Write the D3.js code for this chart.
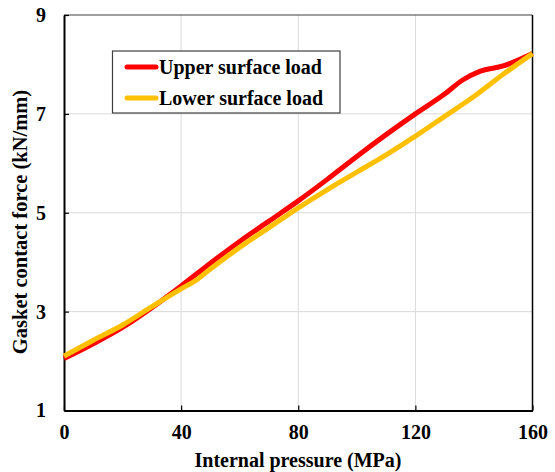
<!DOCTYPE html>
<html>
<head>
<meta charset="utf-8">
<script src="https://cdn.jsdelivr.net/npm/d3@7"></script>
<style>
  body { margin: 0; background: #fff; }
  text { font-family: "Liberation Serif", "Times New Roman", serif; font-weight: bold; }
</style>
</head>
<body>
<svg width="555" height="472"></svg>
<script>
var upperX = [0, 10, 20, 30, 40, 50, 60, 70, 80, 90, 100, 110, 120, 130, 136, 142, 150, 160];
var upperY = [2.05, 2.35, 2.68, 3.08, 3.52, 3.98, 4.42, 4.83, 5.24, 5.68, 6.14, 6.58, 7.0, 7.4, 7.68, 7.86, 7.97, 8.22];
var lowerX = [0, 10, 20, 30, 40, 45, 50, 60, 70, 80, 90, 100, 110, 120, 130, 140, 150, 160];
var lowerY = [2.1, 2.42, 2.73, 3.1, 3.46, 3.63, 3.86, 4.3, 4.7, 5.1, 5.47, 5.82, 6.17, 6.55, 6.95, 7.35, 7.8, 8.22];
var xTicks = [0, 40, 80, 120, 160];
var yTicks = [1, 3, 5, 7, 9];
var seriesNames = ["Upper surface load", "Lower surface load"];
var seriesColors = ["#ff0000", "#ffc000"];

var svg = d3.select("svg");
var pLeft = 64, pRight = 532.5, pTop = 15, pBottom = 410.5;

var x = d3.scaleLinear().domain([0, 160]).range([pLeft, pRight]);
var y = d3.scaleLinear().domain([1, 9]).range([pBottom, pTop]);

// grid
svg.append("g").selectAll("line")
  .data(xTicks.slice(1, -1))
  .enter().append("line")
  .attr("x1", function(d) { return x(d); })
  .attr("x2", function(d) { return x(d); })
  .attr("y1", pTop).attr("y2", pBottom)
  .attr("stroke", "#d9d9d9").attr("stroke-width", 1);

svg.append("g").selectAll("line")
  .data(yTicks.slice(1, -1))
  .enter().append("line")
  .attr("y1", function(d) { return y(d); })
  .attr("y2", function(d) { return y(d); })
  .attr("x1", pLeft).attr("x2", pRight)
  .attr("stroke", "#d9d9d9").attr("stroke-width", 1);

// frame
svg.append("line").attr("x1", pLeft).attr("x2", pRight).attr("y1", pTop).attr("y2", pTop)
  .attr("stroke", "#404040").attr("stroke-width", 1.2);
svg.append("line").attr("x1", pRight).attr("x2", pRight).attr("y1", pTop).attr("y2", pBottom)
  .attr("stroke", "#000").attr("stroke-width", 1.5);

// axes
var xAxis = d3.axisBottom(x).tickValues(xTicks).tickSizeInner(-5).tickSizeOuter(0).tickPadding(14);
var gx = svg.append("g").attr("transform", "translate(0," + pBottom + ")").call(xAxis);
var yAxis = d3.axisLeft(y).tickValues(yTicks).tickSizeInner(-5).tickSizeOuter(0).tickPadding(18);
var gy = svg.append("g").attr("transform", "translate(" + pLeft + ",0)").call(yAxis);

[gx, gy].forEach(function(g) {
  g.select(".domain").attr("stroke", "#000").attr("stroke-width", 2);
  g.selectAll(".tick line").attr("stroke", "#000").attr("stroke-width", 1.2);
  g.selectAll(".tick text").attr("font-size", 20).attr("fill", "#000")
    .style("font-family", "'Liberation Serif', serif").style("font-weight", "bold");
});

// lines
var line = d3.line().curve(d3.curveMonotoneX)
  .x(function(d) { return x(d[0]); })
  .y(function(d) { return y(d[1]); });

var lower = d3.zip(lowerX, lowerY);
var upper = d3.zip(upperX, upperY);

svg.append("path").datum(upper).attr("d", line)
  .attr("fill", "none").attr("stroke", seriesColors[0]).attr("stroke-width", 5);
svg.append("path").datum(lower).attr("d", line)
  .attr("fill", "none").attr("stroke", seriesColors[1]).attr("stroke-width", 5);

// axis titles
svg.append("text").attr("x", 298).attr("y", 467)
  .attr("text-anchor", "middle").attr("font-size", 20).text("Internal pressure (MPa)");
svg.append("text").attr("transform", "translate(27,222) rotate(-90)")
  .attr("text-anchor", "middle").attr("font-size", 20.5).text("Gasket contact force (kN/mm)");

// legend
var lg = svg.append("g");
lg.append("rect").attr("x", 112.5).attr("y", 51).attr("width", 227.5).attr("height", 62)
  .attr("fill", "#fff").attr("stroke", "#404040").attr("stroke-width", 1.2);
seriesNames.forEach(function(name, i) {
  var yy = 67 + i * 31;
  lg.append("line").attr("x1", 127).attr("x2", 156).attr("y1", yy).attr("y2", yy)
    .attr("stroke", seriesColors[i]).attr("stroke-width", 5).attr("stroke-linecap", "round");
  lg.append("text").attr("x", 159).attr("y", yy + 7).attr("font-size", 20).text(name);
});
</script>
</body>
</html>
